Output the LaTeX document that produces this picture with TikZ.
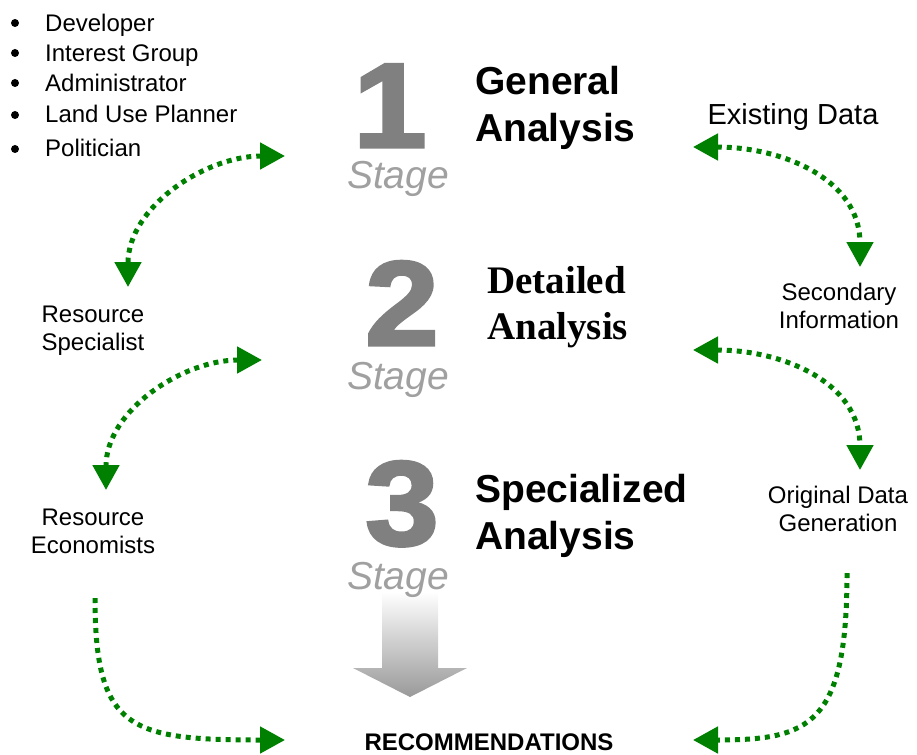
\documentclass[tikz,border=0pt]{standalone}
\usepackage{fontspec}
\setmainfont{Liberation Sans}
\newfontfamily\timesfont{Liberation Serif}
\newfontfamily\blackfont[FakeBold=2.5]{Liberation Sans Bold}
\usetikzlibrary{arrows.meta}
\definecolor{linkgreen}{RGB}{0,128,0}
\definecolor{digitgray}{RGB}{128,128,128}
\definecolor{stagegray}{RGB}{160,160,160}

\begin{document}
\begin{tikzpicture}
      [x = 1pt, y = -1pt,
      link/.style = {
         linkgreen,
         line width = 5pt,
         dash pattern = on 5pt off 5pt,
         >= {Triangle[length = 25pt, width = 26pt]}
      },
      bullet/.style = {
         fill = black,
         circle,
         inner sep = 0pt,
         minimum size = 8pt
      },
      item/.style = {
         anchor = base west,
         inner sep = 0pt,
         font = \fontsize{24}{28}\selectfont
      },
      digit/.style = {
         anchor = base,
         inner sep = 0pt,
         text = digitgray,
         font = \fontsize{120}{120}\selectfont\blackfont
      },
      stagelbl/.style = {
         anchor = base,
         inner sep = 0pt,
         text = stagegray,
         font = \fontsize{39}{44}\selectfont\itshape
      },
      title/.style = {
         anchor = north west,
         align = left,
         inner sep = 0pt,
         font = \fontsize{39}{47}\selectfont\bfseries
      },
      lbl/.style = {
         align = center,
         inner sep = 0pt,
         font = \fontsize{24}{28}\selectfont
      }]

      \useasboundingbox (0, 0) rectangle (917, 754);

      \shade[top color = white, bottom color = black!40]
         (382, 592) -- (438, 592) -- (438, 668) -- (467, 668) -- (410, 697)
         -- (353, 668) -- (382, 668) -- cycle;

      \node[bullet] (dot1) at (15, 23) {};
      \node[bullet] (dot2) at (15, 53) {};
      \node[bullet] (dot3) at (15, 83) {};
      \node[bullet] (dot4) at (15, 115) {};
      \node[bullet] (dot5) at (15, 149) {};
      \node[item] (developer) at (45, 32) {Developer};
      \node[item] (interest) at (45, 62) {Interest Group};
      \node[item] (admin) at (45, 92) {Administrator};
      \node[item] (planner) at (45, 123) {Land Use Planner};
      \node[item] (politician) at (45, 157) {Politician};

      \node[digit] (one) at (390, 147) {\scalebox{1.1}[1]{1}};
      \node[digit] (two) at (402, 345) {\scalebox{1.1}[1]{2}};
      \node[digit] (three) at (402, 545) {\scalebox{1.1}[1]{3}};
      \node[stagelbl] (stage1) at (398, 189) {Stage};
      \node[stagelbl] (stage2) at (398, 389) {Stage};
      \node[stagelbl] (stage3) at (398, 589) {Stage};

      \node[title] (general) at (475, 66) {General\\Analysis};
      \node[title, font = \fontsize{39}{46}\selectfont\timesfont\bfseries]
         (detailed) at (487, 266) {Detailed\\Analysis};
      \node[title] (special) at (475, 474) {Specialized\\Analysis};

      \node[lbl] (resspec) at (93, 331) {Resource\\Specialist};
      \node[lbl] (reseco) at (93, 531) {Resource\\Economists};
      \node[lbl, anchor = base, font = \fontsize{29}{32}\selectfont]
         (existing) at (793, 125) {Existing Data};
      \node[lbl] (secinfo) at (839, 306) {Secondary\\Information};
      \node[lbl] (origdata) at (838, 509) {Original Data\\Generation};
      \node[anchor = base, inner sep = 0pt, font = \fontsize{24}{28}\selectfont\bfseries]
         (recom) at (489, 750) {RECOMMENDATIONS};

      \coordinate (pol-tip) at (285, 156);
      \coordinate (spec-tip) at (128, 287);
      \coordinate (spec-e) at (262, 360);
      \coordinate (eco-tip) at (106, 490);
      \coordinate (gen-e) at (693, 147);
      \coordinate (sec-tip) at (860, 267);
      \coordinate (det-e) at (693, 350);
      \coordinate (orig-tip) at (860, 470);
      \coordinate (eco-s) at (95, 598);
      \coordinate (rec-w) at (285, 740);
      \coordinate (orig-s) at (847, 573);
      \coordinate (rec-e) at (693, 740);

      \draw[link, <->] (pol-tip) to[out = 180, in = 90] (spec-tip);
      \draw[link, <->] (spec-e) to[out = 180, in = 90] (eco-tip);
      \draw[link, <->] (gen-e) to[out = 0, in = 90, looseness = 1.1] (sec-tip);
      \draw[link, <->] (det-e) to[out = 0, in = 90, looseness = 1.1] (orig-tip);
      \draw[link, ->] (eco-s) .. controls (95, 730) and (130, 740) .. (rec-w);
      \draw[link, ->] (orig-s) .. controls (847, 725) and (810, 740) .. (rec-e);

   \end{tikzpicture}
\end{document}
